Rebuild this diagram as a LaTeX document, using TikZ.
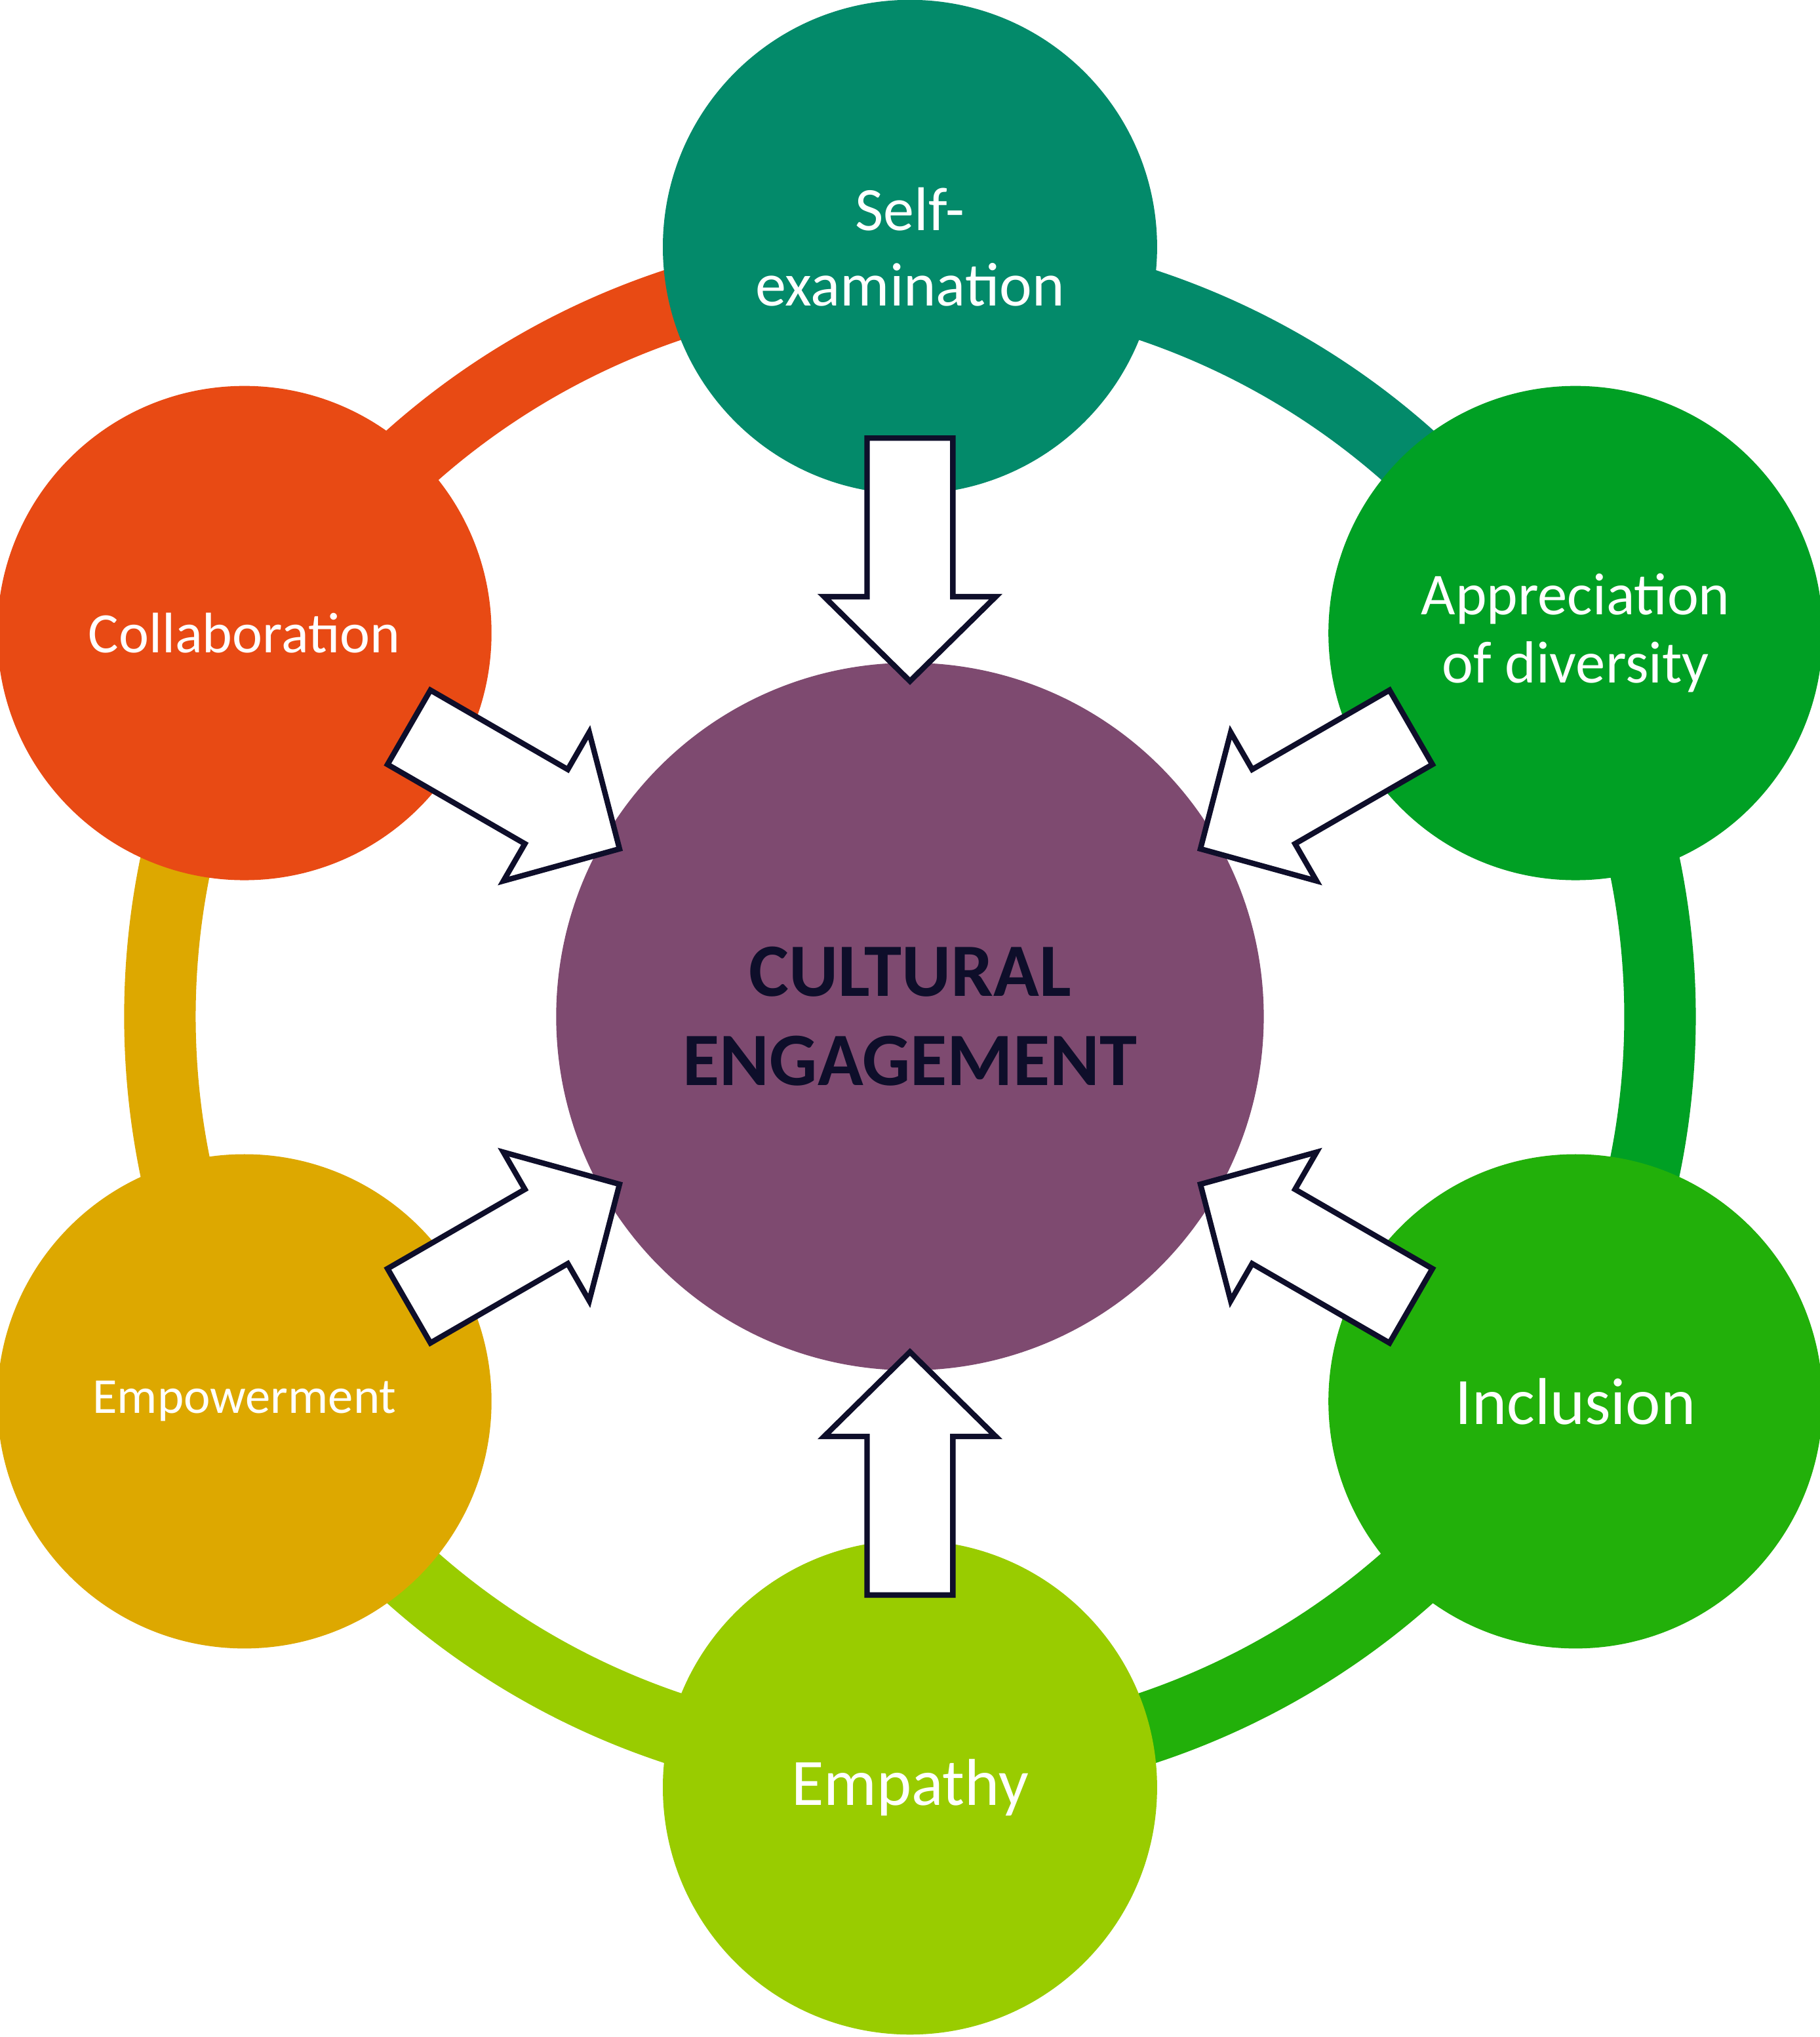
\documentclass[tikz,border=0pt]{standalone}
\usepackage{fontspec}
\setmainfont{Carlito}
\definecolor{cSelf}{HTML}{038A6A}
\definecolor{cApp}{HTML}{00A024}
\definecolor{cInc}{HTML}{22B00A}
\definecolor{cEmp}{HTML}{99CC00}
\definecolor{cPow}{HTML}{DDA800}
\definecolor{cCol}{HTML}{E84A14}
\definecolor{cMid}{HTML}{7E4A70}
\definecolor{cText}{HTML}{0E0E2A}
\tikzset{
  ring/.style={line width=0.55cm},
  petal/.style={circle, minimum size=3.8cm, inner sep=0pt, text=white, align=center},
  inarrow/.style={fill=white, draw=cText, line width=1.2pt, line join=miter}
}
\begin{document}
\begin{tikzpicture}[x=0.01cm,y=-0.01cm]
\useasboundingbox (0,0) rectangle (1400,1567);

% ring
\draw[ring,cCol] ([shift={(700,782)}]210:577) arc[start angle=210,end angle=270,radius=577];
\draw[ring,cSelf] ([shift={(700,782)}]270:577) arc[start angle=270,end angle=330,radius=577];
\draw[ring,cApp] ([shift={(700,782)}]-30:577) arc[start angle=-30,end angle=30,radius=577];
\draw[ring,cInc] ([shift={(700,782)}]30:577) arc[start angle=30,end angle=90,radius=577];
\draw[ring,cEmp] ([shift={(700,782)}]90:577) arc[start angle=90,end angle=150,radius=577];
\draw[ring,cPow] ([shift={(700,782)}]150:577) arc[start angle=150,end angle=210,radius=577];

% circles
\node[petal, fill=cSelf, font=\fontsize{13.5}{16.5}\selectfont] (self) at (700,190) {Self-\\examination};
\node[petal, fill=cApp, font=\fontsize{13}{15}\selectfont] (appr) at (1212,487) {Appreciation\\of diversity};
\node[petal, fill=cInc, font=\fontsize{14.5}{17}\selectfont] (incl) at (1212,1078) {Inclusion};
\node[petal, fill=cEmp, font=\fontsize{14.5}{17}\selectfont] (empa) at (700,1375) {Empathy};
\node[petal, fill=cPow, font=\fontsize{11}{13}\selectfont] (empo) at (188,1078) {Empowerment};
\node[petal, fill=cCol, font=\fontsize{12.5}{15}\selectfont] (coll) at (188,487) {Collaboration};
\node[circle, minimum size=5.44cm, inner sep=0pt, fill=cMid, text=cText, align=center,
  font=\bfseries\fontsize{16.5}{19.5}\selectfont] (core) at (700,782) {CULTURAL\\ENGAGEMENT};

% arrows
\foreach \a in {90,30,-30,-90,-150,150}{
  \begin{scope}[shift={(700,782)}, rotate=\a]
    \draw[inarrow] (445,-33) -- (323,-33) -- (323,-66) -- (258,0)
      -- (323,66) -- (323,33) -- (445,33) -- cycle;
  \end{scope}
}
\end{tikzpicture}
\end{document}
